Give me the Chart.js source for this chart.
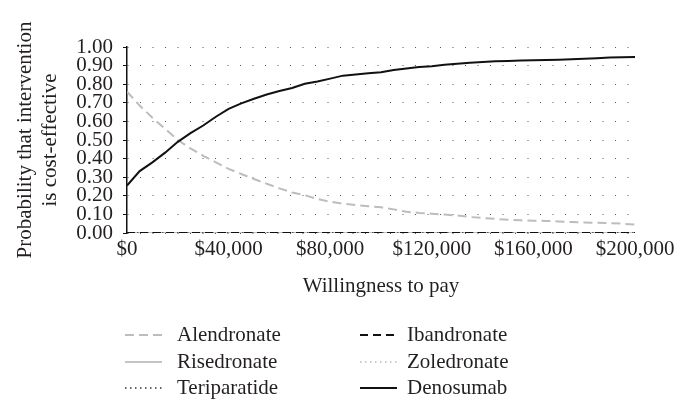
<!DOCTYPE html>
<html lang="en">
<head>
    <meta charset="UTF-8">
    <title>Cost-effectiveness acceptability curves</title>
    <script src="https://cdn.jsdelivr.net/npm/chart.js@4.4.1/dist/chart.umd.min.js"></script>
    <style>
        body { margin: 0; background: #fff; }
    </style>
</head>
<body>
    <canvas id="ceac" width="686" height="415"></canvas>

    <script>
        // willingness to pay, $ per QALY (every $5,000)
        const wtp = [0, 5000, 10000, 15000, 20000, 25000, 30000, 35000, 40000, 45000,
            50000, 55000, 60000, 65000, 70000, 75000, 80000, 85000, 90000, 95000,
            100000, 105000, 110000, 115000, 120000, 125000, 130000, 135000, 140000, 145000,
            150000, 155000, 160000, 165000, 170000, 175000, 180000, 185000, 190000, 195000, 200000];

        const alendronate = [0.76, 0.685, 0.62, 0.56, 0.50, 0.455, 0.415, 0.38, 0.345, 0.317,
            0.29, 0.265, 0.24, 0.218, 0.203, 0.183, 0.168, 0.158, 0.151, 0.144,
            0.138, 0.127, 0.114, 0.108, 0.104, 0.099, 0.094, 0.086, 0.081, 0.076,
            0.071, 0.068, 0.066, 0.065, 0.062, 0.059, 0.057, 0.055, 0.053, 0.050, 0.045];
        const risedronate = [0, 0, 0, 0, 0, 0, 0, 0, 0, 0, 0, 0, 0, 0, 0, 0, 0, 0, 0, 0, 0,
            0, 0, 0, 0, 0, 0, 0, 0, 0, 0, 0, 0, 0, 0, 0, 0, 0, 0, 0, 0];
        const teriparatide = [0, 0, 0, 0, 0, 0, 0, 0, 0, 0, 0, 0, 0, 0, 0, 0, 0, 0, 0, 0, 0,
            0, 0, 0, 0, 0, 0, 0, 0, 0, 0, 0, 0, 0, 0, 0, 0, 0, 0, 0, 0];
        const ibandronate = [0, 0, 0, 0, 0, 0, 0, 0, 0, 0, 0, 0, 0, 0, 0, 0, 0, 0, 0, 0, 0,
            0, 0, 0, 0, 0, 0, 0, 0, 0, 0, 0, 0, 0, 0, 0, 0, 0, 0, 0, 0];
        const zoledronate = [0, 0, 0, 0, 0, 0, 0, 0, 0, 0, 0, 0, 0, 0, 0, 0, 0, 0, 0, 0, 0,
            0, 0, 0, 0, 0, 0, 0, 0, 0, 0, 0, 0, 0, 0, 0, 0, 0, 0, 0, 0];
        const denosumab = [0.255, 0.333, 0.38, 0.432, 0.49, 0.537, 0.578, 0.625, 0.667, 0.697,
            0.722, 0.745, 0.763, 0.78, 0.802, 0.815, 0.83, 0.846, 0.852, 0.859,
            0.864, 0.876, 0.884, 0.892, 0.897, 0.904, 0.91, 0.915, 0.919, 0.923,
            0.925, 0.927, 0.929, 0.93, 0.932, 0.934, 0.937, 0.94, 0.943, 0.945, 0.946];

        const xTickLabels = ['$0', '$40,000', '$80,000', '$120,000', '$160,000', '$200,000'];
        const yTickLabels = ['0.00', '0.10', '0.20', '0.30', '0.40', '0.50', '0.60', '0.70', '0.80', '0.90', '1.00'];

        const FONT = "'Liberation Serif', 'Times New Roman', serif";
        const INK = '#231f20';

        function pts(arr) {
            return wtp.map((w, i) => ({ x: w, y: arr[i] }));
        }

        // legend drawn as two columns of three, like the original
        const legendCols = [[0, 1, 2], [3, 4, 5]];
        const twoColLegend = {
            id: 'twoColLegend',
            afterDraw(chart) {
                const ctx = chart.ctx;
                const sets = chart.data.datasets;
                const colX = [125, 360];
                const textX = [177, 407];
                const rowY = [335, 362, 388];
                ctx.save();
                ctx.font = '21px ' + FONT;
                ctx.textBaseline = 'middle';
                ctx.fillStyle = INK;
                legendCols.forEach((col, c) => {
                    col.forEach((idx, r) => {
                        const ds = sets[idx];
                        const y = rowY[r];
                        ctx.beginPath();
                        ctx.setLineDash(ds.borderDash || []);
                        ctx.lineWidth = ds.borderWidth;
                        ctx.strokeStyle = ds.borderColor;
                        ctx.moveTo(colX[c], y);
                        ctx.lineTo(colX[c] + 37, y);
                        ctx.stroke();
                        ctx.setLineDash([]);
                        ctx.fillText(ds.label, textX[c], y);
                    });
                });
                ctx.restore();
            }
        };

        const ctx = document.getElementById('ceac').getContext('2d');
        const chart = new Chart(ctx, {
            type: 'line',
            data: {
                datasets: [
                    { label: 'Alendronate', data: pts(alendronate), borderColor: '#bdbdbd', borderWidth: 2, borderDash: [9, 5], order: 3 },
                    { label: 'Risedronate', data: pts(risedronate), borderColor: '#c4c4c4', borderWidth: 2, order: 5 },
                    { label: 'Teriparatide', data: pts(teriparatide), borderColor: '#333333', borderWidth: 1.5, borderDash: [1.5, 3.5], order: 4 },
                    { label: 'Ibandronate', data: pts(ibandronate), borderColor: '#111111', borderWidth: 2, borderDash: [8, 5], order: 2 },
                    { label: 'Zoledronate', data: pts(zoledronate), borderColor: '#bbbbbb', borderWidth: 1.5, borderDash: [1.5, 3.5], order: 6 },
                    { label: 'Denosumab', data: pts(denosumab), borderColor: '#111111', borderWidth: 2, order: 1 }
                ]
            },
            options: {
                responsive: false,
                animation: false,
                devicePixelRatio: 1,
                elements: { point: { radius: 0 }, line: { tension: 0 } },
                layout: { padding: { top: 47, right: 51, bottom: 112, left: 0 } },
                plugins: {
                    legend: { display: false },
                    tooltip: { enabled: false }
                },
                scales: {
                    x: {
                        type: 'linear',
                        min: 0,
                        max: 200000,
                        afterFit: s => { s.height = 70; },
                        grid: { display: false, drawTicks: false },
                        border: { display: false },
                        ticks: {
                            stepSize: 40000,
                            autoSkip: false,
                            maxRotation: 0,
                            padding: 4,
                            color: INK,
                            font: { family: FONT, size: 21 },
                            callback: (v, i) => xTickLabels[i]
                        },
                        title: {
                            display: true,
                            text: 'Willingness to pay',
                            color: INK,
                            font: { family: FONT, size: 21, lineHeight: 25 / 21 },
                            padding: { top: 0, bottom: 4 }
                        }
                    },
                    y: {
                        min: 0,
                        max: 1,
                        afterFit: s => { s.width = 127; },
                        grid: {
                            color: '#555555',
                            lineWidth: 1,
                            drawTicks: true,
                            tickLength: 4,
                            tickColor: '#111111',
                            tickBorderDash: []
                        },
                        border: { display: true, color: '#111111', width: 1.5, dash: [1, 11.5], dashOffset: 0 },
                        ticks: {
                            stepSize: 0.1,
                            autoSkip: false,
                            padding: 10,
                            color: INK,
                            font: { family: FONT, size: 21 },
                            callback: (v, i) => yTickLabels[i]
                        },
                        title: {
                            display: true,
                            text: ['Probability that intervention', 'is cost-effective'],
                            color: INK,
                            font: { family: FONT, size: 21, lineHeight: 25 / 21 },
                            padding: { top: 12.5, bottom: 0 }
                        }
                    }
                }
            },
            plugins: [twoColLegend]
        });
    </script>
</body>
</html>
